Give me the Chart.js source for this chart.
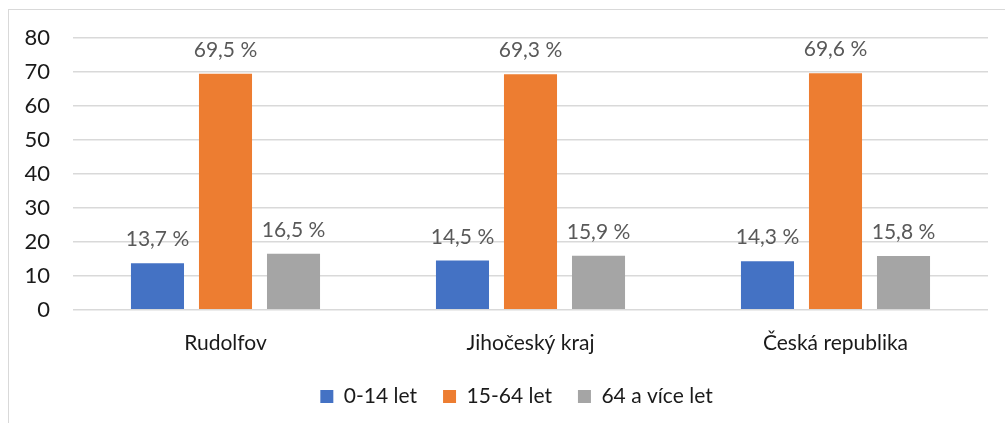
<!DOCTYPE html>
<html>
<head>
<meta charset="utf-8">
<script src="https://cdn.jsdelivr.net/npm/chart.js@4"></script>
<style>
  html, body { margin: 0; padding: 0; background: #fff; }
  #frame {
    position: absolute;
    left: 8px; top: 9px;
    width: 997px; height: 414px;
    border-left: 1px solid #d9d9d9;
    border-top: 1px solid #d9d9d9;
    box-sizing: border-box;
  }
  #wrap { position: absolute; left: 0; top: 0; width: 996px; height: 413px; }
</style>
</head>
<body>
<div id="frame"><div id="wrap"><canvas id="chart"></canvas></div></div>
<script>
// kategorie a hodnoty (%)
const categories = ['Rudolfov', 'Jihočeský kraj', 'Česká republika'];
const seriesNames = ['0-14 let', '15-64 let', '64 a více let'];
const young = [13.7, 14.5, 14.3];
const adult = [69.5, 69.3, 69.6];
const senior = [16.5, 15.9, 15.8];
const yTicks = [0, 10, 20, 30, 40, 50, 60, 70, 80];

const fontFamily = 'Lato, "Open Sans", sans-serif';
const colors = ['#4472C4', '#ED7D31', '#A5A5A5'];
const legendGap = 26;

// popisky hodnot nad sloupci
const valueLabels = {
  id: 'valueLabels',
  afterDatasetsDraw(chart) {
    const ctx = chart.ctx;
    ctx.save();
    ctx.font = '21px ' + fontFamily;
    ctx.fillStyle = '#595959';
    ctx.textAlign = 'center';
    ctx.textBaseline = 'alphabetic';
    chart.data.datasets.forEach((ds, i) => {
      chart.getDatasetMeta(i).data.forEach((bar, j) => {
        const txt = ds.data[j].toFixed(1).replace('.', ',') + ' %';
        ctx.fillText(txt, bar.x, bar.y - 17);
      });
    });
    ctx.restore();
  }
};

// legenda je v originále trochu vpravo od středu
const legendShift = {
  id: 'legendShift',
  afterLayout(chart) {
    if (!chart.legend) return;
    chart.legend.left += 18;
    chart.legend.right += 18;
  }
};

new Chart(document.getElementById('chart'), {
  type: 'bar',
  data: {
    labels: categories,
    datasets: [
      { label: seriesNames[0], data: young, backgroundColor: colors[0] },
      { label: seriesNames[1], data: adult, backgroundColor: colors[1] },
      { label: seriesNames[2], data: senior, backgroundColor: colors[2] }
    ]
  },
  options: {
    responsive: true,
    maintainAspectRatio: false,
    animation: false,
    categoryPercentage: 0.669,
    barPercentage: 0.78,
    layout: { padding: { left: 0, right: 17, top: 28, bottom: 6 } },
    plugins: {
      legend: {
        position: 'bottom',
        labels: {
          boxWidth: 13, boxHeight: 13,
          color: '#1a1a1a',
          font: { family: fontFamily, size: 21 },
          padding: legendGap
        }
      },
      tooltip: { enabled: false }
    },
    scales: {
      x: {
        // legenda má větší padding, osu zmenšíme, aby graf zůstal stejně vysoký
        afterFit(scale) { scale.height = scale.height - (legendGap - 9); },
        grid: { display: false, drawTicks: false },
        border: { display: false },
        ticks: { color: '#1a1a1a', font: { family: fontFamily, size: 21 }, padding: 21 }
      },
      y: {
        min: 0, max: 80,
        afterFit(scale) { scale.width = 64; },
        afterBuildTicks(scale) { scale.ticks = yTicks.map(v => ({ value: v })); },
        // odsazení popisků přes neviditelné čárky (padding by posunul horní okraj)
        grid: { color: '#d9d9d9', lineWidth: 1.5, drawTicks: true, tickLength: 23, tickColor: 'rgba(0,0,0,0)' },
        border: { display: false },
        ticks: { color: '#1a1a1a', font: { family: fontFamily, size: 22 }, padding: 0 }
      }
    }
  },
  plugins: [valueLabels, legendShift]
});
</script>
</body>
</html>
